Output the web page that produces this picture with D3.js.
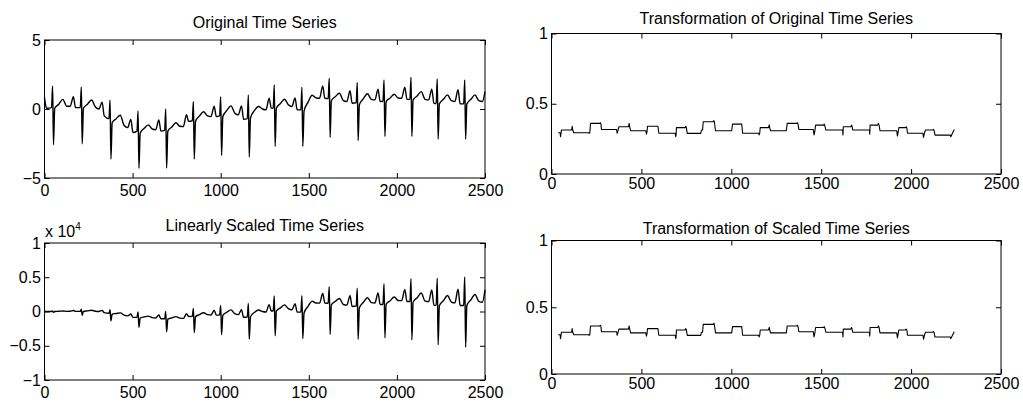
<!DOCTYPE html>
<html><head><meta charset="utf-8">
<script src="https://cdn.jsdelivr.net/npm/d3@7"></script>
<style>
body{margin:0;background:#fff}
text{font-family:"Liberation Sans",Arial,Helvetica,sans-serif}
</style>
</head><body>
<svg id="c" width="1023" height="404"></svg>
<script>
// ---------------- DATA ----------------
const xTicks = [0, 500, 1000, 1500, 2000, 2500];
const yTicksOriginal = [-5, 0, 5];
const yTicksScaled = [-10000, -5000, 0, 5000, 10000];
const yTickLabelsScaled = ["\u22121", "\u22120.5", "0", "0.5", "1"];
const yTicksTransform = [0, 0.5, 1];
const titles = ["Original Time Series", "Linearly Scaled Time Series",
                "Transformation of Original Time Series", "Transformation of Scaled Time Series"];

const seriesX = [0,6,14,40,
46,51,58,81,104,126,146,164,176,203,
209,214,221,244,267,289,309,327,339,366,
372,377,384,407,430,452,472,490,502,525,
531,536,543,566,589,611,631,649,661,682,
688,693,700,723,746,768,788,806,818,839,
845,850,857,880,903,925,945,963,975,994,
1000,1005,1012,1035,1058,1080,1100,1118,1130,1151,
1157,1162,1169,1192,1215,1237,1257,1275,1287,1298,
1304,1309,1316,1339,1362,1384,1404,1422,1434,1455,
1461,1466,1473,1496,1519,1541,1561,1579,1591,1610,
1616,1621,1628,1651,1674,1696,1716,1734,1746,1769,
1775,1780,1787,1810,1833,1855,1875,1893,1905,1921,
1927,1932,1939,1962,1985,2007,2027,2045,2057,2074,
2080,2085,2092,2115,2138,2160,2180,2198,2210,2223,
2229,2234,2241,2264,2287,2309,2329,2347,2359,2379,
2385,2390,2397,2420,2443,2465,2485,2500];

const originalValues = [0.85,0.3,0.05,0.1,
1.67,-2.59,0.05,0.35,0.7,0.2,0.2,0.9,0.1,0.1,
1.6,-2.52,0.05,0.35,0.65,0.15,0.0,0.5,-0.5,-0.7,
0.66,-3.63,-1.0,-0.7,-0.45,-1.2,-1.35,-0.75,-1.7,-1.6,
-0.15,-4.3,-1.75,-1.4,-1.15,-1.45,-1.5,-0.8,-1.6,-1.55,
0.0,-4.28,-1.6,-1.3,-1.0,-1.25,-1.27,-0.42,-0.9,-0.85,
0.54,-3.63,-0.9,-0.5,-0.2,-0.5,-0.55,0.2,-0.55,-0.5,
0.9,-3.37,-0.55,-0.1,0.23,-0.3,-0.42,0.23,-0.75,-0.7,
1.02,-3.48,-0.66,-0.1,0.18,0.0,-0.06,0.78,0.06,0.05,
1.75,-2.71,0.06,0.4,0.71,0.3,0.18,0.8,-0.06,-0.05,
1.58,-2.71,-0.15,0.5,1.0,0.8,0.78,1.67,0.78,0.75,
2.23,-2.06,0.6,0.9,1.14,0.6,0.54,1.33,0.42,0.45,
1.92,-2.28,0.3,0.75,1.1,0.7,0.66,1.43,0.54,0.55,
2.11,-1.99,0.54,0.8,1.07,0.8,0.78,1.58,0.71,0.7,
2.3,-1.99,0.66,0.95,1.26,0.7,0.66,1.43,0.42,0.4,
2.18,-2.18,0.37,0.7,1.02,0.6,0.54,1.39,0.37,0.37,
2.11,-2.18,0.37,0.7,1.02,0.6,0.54,1.26];

const scaledValues = [0,2,1,4,
77,-132,3,28,73,25,29,148,18,20,
334,-539,11,85,174,43,0,164,-170,-256,
246,-1369,-384,-285,-194,-542,-637,-368,-853,-840,
-80,-2305,-950,-792,-677,-886,-947,-519,-1058,-1057,
0,-2966,-1120,-940,-746,-960,-1001,-339,-736,-713,
456,-3086,-771,-440,-181,-463,-520,193,-536,-497,
900,-3387,-557,-104,243,-324,-462,257,-848,-806,
1180,-4044,-772,-119,219,0,-75,995,77,65,
2282,-3547,79,536,967,415,253,1138,-86,-73,
2308,-3973,-221,748,1519,1233,1218,2637,1241,1208,
3604,-3339,977,1486,1908,1018,927,2306,733,796,
3408,-4058,536,1358,2016,1299,1238,2707,1029,1057,
4066,-3845,1047,1570,2124,1606,1581,3231,1460,1452,
4784,-4149,1381,2009,2694,1512,1439,3143,928,889,
4859,-4870,829,1585,2333,1385,1258,3262,873,880,
5032,-5210,887,1694,2492,1479,1342,3150];

const transformX = [37,48,50,53,55,112,115,118,124,
205,209,213,217,268,272,275,278,
362,365,370,375,428,432,435,440,
525,528,531,534,592,597,
688,691,693,695,743,747,750,755,
830,834,840,844,899,903,906,912,
1002,1007,1058,1063,
1152,1155,1158,1161,1207,1211,1214,1218,
1306,1311,1364,1368,1371,1376,
1456,1460,1464,1469,1513,1517,1520,1526,
1619,1621,1623,1665,1669,1672,1675,
1768,1770,1772,1814,1818,1822,1827,
1920,1924,1928,1932,1968,1972,1976,1980,
2066,2069,2074,2080,2120,2124,2128,2133,
2218,2221,2228,2240];

const transformValues = [0.294,0.294,0.265,0.29,0.313,0.313,0.34,0.313,0.294,
0.294,0.29,0.294,0.36,0.36,0.365,0.355,0.317,
0.317,0.29,0.31,0.336,0.336,0.36,0.336,0.308,
0.308,0.284,0.3,0.34,0.34,0.29,
0.29,0.265,0.28,0.33,0.33,0.34,0.33,0.289,
0.289,0.313,0.313,0.372,0.372,0.38,0.37,0.308,
0.308,0.355,0.355,0.29,
0.29,0.278,0.29,0.33,0.33,0.35,0.33,0.308,
0.308,0.36,0.36,0.365,0.355,0.317,
0.317,0.278,0.3,0.348,0.348,0.355,0.345,0.313,
0.313,0.278,0.336,0.336,0.348,0.336,0.313,
0.313,0.284,0.348,0.348,0.36,0.348,0.308,
0.308,0.27,0.3,0.33,0.33,0.336,0.33,0.29,
0.29,0.26,0.29,0.313,0.313,0.318,0.31,0.277,
0.277,0.265,0.284,0.317];

const transformScaledValues = transformValues.slice(); // the two transformed curves read identical

// ---------------- DRAW ----------------
const svg = d3.select("#c");
const FS = 16;

function panel(cfg) {
  const x = d3.scaleLinear().domain([0, 2500]).range([cfg.l, cfg.r]);
  const y = d3.scaleLinear().domain(cfg.yDomain).range([cfg.b, cfg.t]);
  const g = svg.append("g");

  g.append("path")
    .datum(d3.zip(cfg.xs, cfg.ys))
    .attr("fill", "none").attr("stroke", "#000").attr("stroke-width", cfg.lw)
    .attr("stroke-linejoin", "round")
    .attr("d", d3.line().curve(cfg.curve).x(d => x(d[0])).y(d => y(d[1])));

  const fmtY = cfg.yLabels ? (d, i) => cfg.yLabels[i] : d3.format("");
  const style = sel => {
    sel.select(".domain").remove();
    sel.selectAll("line").attr("stroke", "#000");
    sel.selectAll("text").attr("font-size", FS).attr("fill", "#000")
      .attr("font-family", '"Liberation Sans",Arial,sans-serif');
  };

  g.append("g").attr("transform", `translate(0,${cfg.b})`)
    .call(d3.axisBottom(x).tickValues(xTicks).tickFormat(d3.format("d"))
      .tickSizeInner(-5).tickSizeOuter(0).tickPadding(cfg.xPad))
    .call(style);
  g.append("g").attr("transform", `translate(0,${cfg.t})`)
    .call(d3.axisTop(x).tickValues(xTicks).tickFormat("")
      .tickSizeInner(-5).tickSizeOuter(0))
    .call(style);
  g.append("g").attr("transform", `translate(${cfg.l},0)`)
    .call(d3.axisLeft(y).tickValues(cfg.yTicks).tickFormat(fmtY)
      .tickSizeInner(-5).tickSizeOuter(0).tickPadding(3.5))
    .call(style);
  g.append("g").attr("transform", `translate(${cfg.r},0)`)
    .call(d3.axisRight(y).tickValues(cfg.yTicks).tickFormat("")
      .tickSizeInner(-5).tickSizeOuter(0))
    .call(style);

  g.append("rect").attr("x", cfg.l).attr("y", cfg.t)
    .attr("width", cfg.r - cfg.l).attr("height", cfg.b - cfg.t)
    .attr("fill", "none").attr("stroke", "#000").attr("stroke-width", 1);

  g.append("text").attr("x", (cfg.l + cfg.r) / 2).attr("y", cfg.titleY)
    .attr("text-anchor", "middle").attr("font-size", FS).text(cfg.title);
  return g;
}

panel({l: 44.5, r: 485, t: 40, b: 178, yDomain: [-5, 5], yTicks: yTicksOriginal,
  xs: seriesX, ys: originalValues, title: titles[0], titleY: 28, xPad: 7,
  lw: 1.4, curve: d3.curveMonotoneX});
const bl = panel({l: 44.5, r: 485, t: 243, b: 380, yDomain: [-10000, 10000], yTicks: yTicksScaled,
  yLabels: yTickLabelsScaled, xs: seriesX, ys: scaledValues, title: titles[1], titleY: 231, xPad: 7,
  lw: 1.4, curve: d3.curveMonotoneX});
bl.append("text").attr("x", 45).attr("y", 237).attr("font-size", FS)
  .text("x 10").append("tspan").attr("dy", -7).attr("font-size", 10).text("4");
panel({l: 551.5, r: 1001, t: 33.5, b: 174, yDomain: [0, 1], yTicks: yTicksTransform,
  xs: transformX, ys: transformValues, title: titles[2], titleY: 24, xPad: 4,
  lw: 1.1, curve: d3.curveLinear});
panel({l: 551.5, r: 1001, t: 240.5, b: 374, yDomain: [0, 1], yTicks: yTicksTransform,
  xs: transformX, ys: transformScaledValues, title: titles[3], titleY: 234, xPad: 4,
  lw: 1.1, curve: d3.curveLinear});
</script>
</body></html>
